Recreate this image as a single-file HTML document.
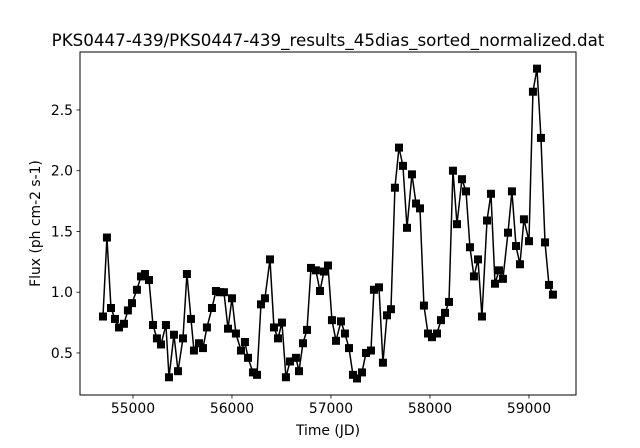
<!DOCTYPE html>
<html><head><meta charset="utf-8"><style>
body{margin:0;background:#fff}
svg text{font-family:"DejaVu Sans","Liberation Sans",sans-serif}
</style></head><body>
<svg id="chart" width="640" height="443" viewBox="0 0 640 443" xmlns="http://www.w3.org/2000/svg">
<rect width="640" height="443" fill="#fff"/>
<text x="328" y="46" font-size="16.7" text-anchor="middle">PKS0447-439/PKS0447-439_results_45dias_sorted_normalized.dat</text>
<g id="xt"></g>
<g id="yt"></g>
<g id="series"></g>
<rect x="80" y="52" width="496" height="343" fill="none" stroke="#000" stroke-width="1"/>
<text x="328" y="435" font-size="13.9" text-anchor="middle">Time (JD)</text>
<text transform="translate(40,223.5) rotate(-90)" font-size="13.9" text-anchor="middle">Flux (ph cm-2 s-1)</text>
</svg>
<script>
const jd=[54697,54737,54778,54818,54859,54909,54949,54990,55040,55081,
55121,55162,55202,55242,55283,55333,55364,55414,55455,55505,
55545,55586,55616,55667,55707,55747,55798,55838,55879,55919,
55960,56000,56040,56091,56131,56162,56212,56253,56293,56333,
56384,56424,56465,56505,56545,56586,56646,56677,56717,56758,
56798,56848,56889,56929,56970,57010,57051,57101,57141,57182,
57222,57263,57313,57354,57404,57434,57485,57525,57566,57606,
57646,57687,57727,57768,57818,57859,57899,57939,57980,58020,
58071,58111,58152,58192,58232,58273,58323,58364,58404,58444,
58485,58525,58576,58616,58657,58697,58737,58788,58828,58869,
58909,58949,59000,59040,59081,59121,59162,59202,59242];
const flux=[0.80,1.45,0.87,0.78,0.71,0.74,0.85,0.91,1.02,1.13,
1.15,1.10,0.73,0.62,0.57,0.73,0.30,0.65,0.35,0.62,
1.15,0.78,0.52,0.58,0.54,0.71,0.87,1.01,1.00,1.00,
0.70,0.95,0.66,0.52,0.59,0.46,0.34,0.32,0.90,0.95,
1.27,0.71,0.62,0.75,0.30,0.43,0.46,0.35,0.58,0.69,
1.20,1.18,1.01,1.17,1.22,0.77,0.60,0.76,0.66,0.54,
0.32,0.29,0.34,0.50,0.52,1.02,1.04,0.42,0.81,0.86,
1.86,2.19,2.04,1.53,1.97,1.73,1.69,0.89,0.66,0.63,
0.66,0.77,0.83,0.92,2.00,1.56,1.93,1.83,1.37,1.13,
1.27,0.80,1.59,1.81,1.07,1.18,1.11,1.49,1.83,1.38,
1.23,1.60,1.42,2.65,2.84,2.27,1.41,1.06,0.98];
const xTicks=[55000,56000,57000,58000,59000];
const yTicks=[0.5,1.0,1.5,2.0,2.5];
const yTickLabels=["0.5","1.0","1.5","2.0","2.5"];

const NS="http://www.w3.org/2000/svg";
const L=80,R=576,T=52,B=395;
const x0=54465,x1=59475,y0=0.154,y1=2.977;
const sx=v=>L+(v-x0)/(x1-x0)*(R-L);
const sy=v=>B-(v-y0)/(y1-y0)*(B-T);
function mk(tag,attrs,parent){const e=document.createElementNS(NS,tag);for(const k in attrs)e.setAttribute(k,attrs[k]);parent.appendChild(e);return e;}
const xt=document.getElementById('xt'),yt=document.getElementById('yt'),sg=document.getElementById('series');
xTicks.forEach(t=>{
 const l=mk('line',{x1:sx(t),x2:sx(t),y1:B,y2:B+3.5,stroke:'#000','stroke-width':0.8},xt);
 
 
 const tx=mk('text',{x:sx(t),y:B+18,'font-size':13.9,'text-anchor':'middle'},xt);
 tx.textContent=String(t);
 
 
});
yTicks.forEach((t,i)=>{
 const l=mk('line',{x1:L-3.5,x2:L,y1:sy(t),y2:sy(t),stroke:'#000','stroke-width':0.8},yt);
 
 
 const tx=mk('text',{x:L-7,y:sy(t)+5,'font-size':13.9,'text-anchor':'end'},yt);
 tx.textContent=yTickLabels[i];
 
 
});
const pl=mk('polyline',{points:jd.map((d,i)=>sx(d)+','+sy(flux[i])).join(' '),fill:'none',stroke:'#000','stroke-width':1.5,'stroke-linejoin':'round'},sg);


jd.forEach((d,i)=>{
 const r=mk('rect',{x:sx(d)-4,y:sy(flux[i])-4,width:8,height:8,fill:'#000'},sg);
 
 
});
</script>
</body></html>
